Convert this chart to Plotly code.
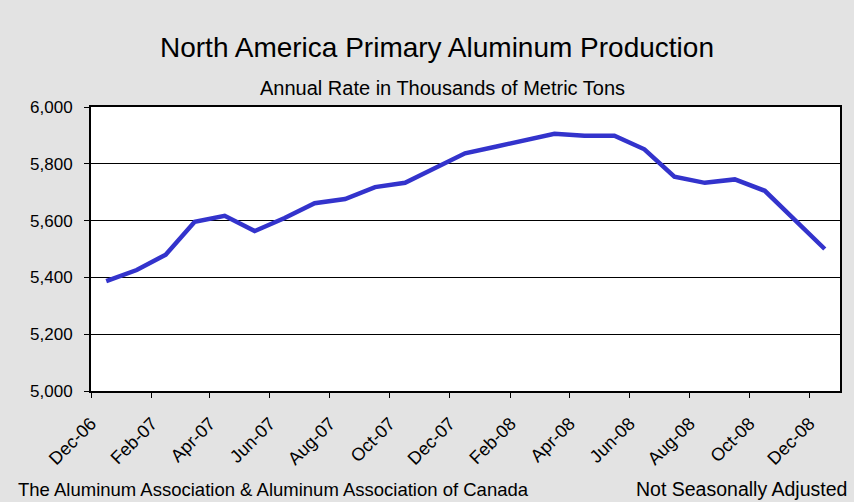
import plotly.graph_objects as go

months = ["2006-12-01","2007-01-01","2007-02-01","2007-03-01","2007-04-01","2007-05-01",
          "2007-06-01","2007-07-01","2007-08-01","2007-09-01","2007-10-01","2007-11-01",
          "2007-12-01","2008-01-01","2008-02-01","2008-03-01","2008-04-01","2008-05-01",
          "2008-06-01","2008-07-01","2008-08-01","2008-09-01","2008-10-01","2008-11-01",
          "2008-12-01"]
production = [5387, 5426, 5480, 5596, 5617, 5563, 5609, 5661, 5676, 5718, 5733, 5784,
              5837, 5860, 5881, 5906, 5899, 5899, 5851, 5755, 5733, 5745, 5705, 5603, 5500]

title = "North America Primary Aluminum Production"
subtitle = "Annual Rate in Thousands of Metric Tons"
source = "The Aluminum Association & Aluminum Association of Canada"
note = "Not Seasonally Adjusted"

BG = "#e3e3e3"
FONT = "Liberation Sans, Arial, sans-serif"

W, H = 854, 502
L, R, T, B = 91, 14, 107, 111
ph = H - T - B
pw = W - L - R
def ypix(p):
    return (H - B - p) / ph
def xpix(p):
    return (p - L) / pw

fig = go.Figure()
fig.add_trace(go.Scatter(
    x=months, y=production, mode="lines",
    xperiod="M1", xperiodalignment="middle",
    line=dict(color="#3333cc", width=4.5),
    hoverinfo="x+y", showlegend=False,
))

fig.update_layout(
    width=W, height=H,
    paper_bgcolor=BG, plot_bgcolor="white",
    margin=dict(l=L, r=R, t=T, b=B),
    font=dict(family=FONT, color="black", size=16),
    showlegend=False,
)

fig.update_xaxes(
    type="date", range=["2006-12-01", "2009-01-01"],
    tick0="2006-12-01", dtick="M2", tickformat="%b-%y", tickangle=-45,
    ticks="outside", ticklen=5, tickcolor="black",
    ticklabelstandoff=8,
    showgrid=False, showline=True, linecolor="black", linewidth=2, mirror=True,
    tickfont=dict(size=18), zeroline=False,
)
fig.update_yaxes(
    range=[5000, 6000], tick0=5000, dtick=200, tickformat=",d",
    ticks="outside", ticklen=5, tickcolor="black",
    ticklabelstandoff=8,
    showgrid=True, gridcolor="black", gridwidth=1,
    showline=True, linecolor="black", linewidth=2, mirror=True,
    tickfont=dict(size=17), zeroline=False,
)

fig.add_annotation(text=title, x=xpix(437), xref="paper", xanchor="center",
                   y=ypix(48), yref="paper", yanchor="middle", showarrow=False,
                   font=dict(size=28, family=FONT))
fig.add_annotation(text=subtitle, x=xpix(442), xref="paper", xanchor="center",
                   y=ypix(88), yref="paper", yanchor="middle", showarrow=False,
                   font=dict(size=20, family=FONT))
fig.add_annotation(text=source, x=xpix(16), xref="paper", xanchor="left",
                   y=ypix(489), yref="paper", yanchor="middle", showarrow=False,
                   font=dict(size=18.5, family=FONT))
fig.add_annotation(text=note, x=xpix(634), xref="paper", xanchor="left",
                   y=ypix(489), yref="paper", yanchor="middle", showarrow=False,
                   font=dict(size=19.5, family=FONT))

fig.write_html("out.html", config={"displayModeBar": False},
               post_script="document.body.style.margin='0px';")
